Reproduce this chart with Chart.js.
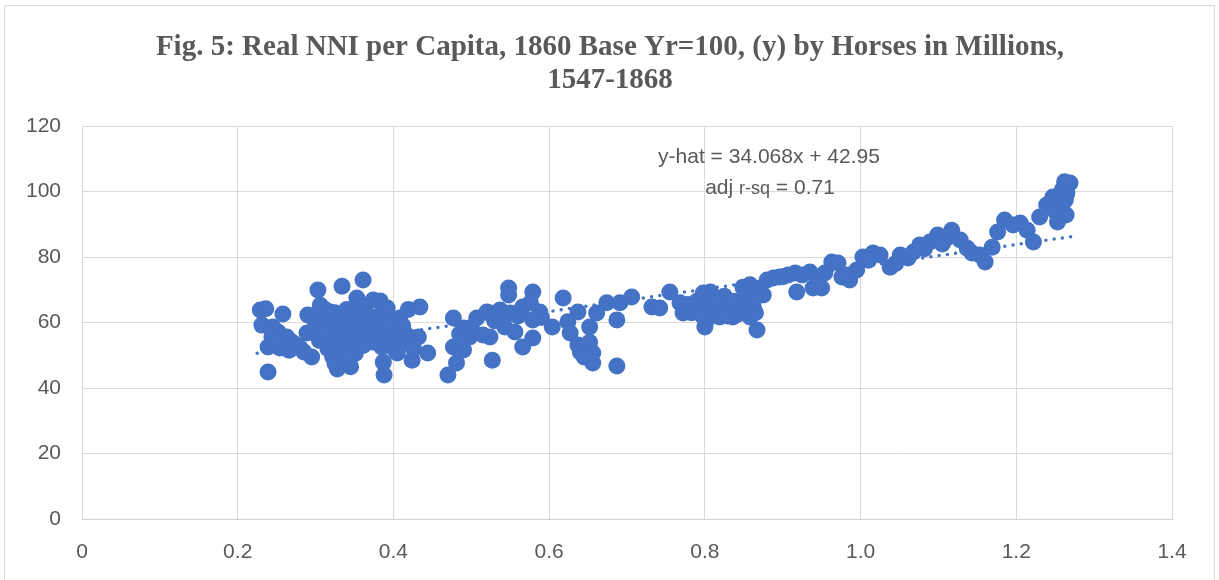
<!DOCTYPE html>
<html>
<head>
<meta charset="utf-8">
<script src="https://cdn.jsdelivr.net/npm/chart.js@4.4.1/dist/chart.umd.min.js"></script>
<style>
  body { margin: 0; background: #fff; }
  #wrap { position: relative; width: 1219px; height: 580px; overflow: hidden; }
  #frame { position: absolute; left: 4px; top: 5px; width: 1209px; height: 600px; border: 1px solid #d9d9d9; }
  canvas { position: absolute; left: 0; top: 0; }
</style>
</head>
<body>
<div id="wrap">
  <div id="frame"></div>
  <canvas id="chart" width="1219" height="580"></canvas>
</div>
<script>
// horses in millions (x) and real NNI per capita, 1860=100 (y)
const horses = [
  0.229,0.236,0.258,0.231,0.245,0.252,0.244,0.239,0.254,0.263,0.239,0.270,0.276,0.280,0.289,0.295,0.285,0.266,0.248,
  0.303,0.334,0.361,0.290,0.306,0.319,0.353,0.374,0.383,0.392,0.419,0.434,
  0.298,0.300,0.305,0.308,0.312,0.315,0.316,0.320,0.321,0.322,0.325,0.326,0.327,0.330,0.331,0.332,0.328,0.335,0.336,0.337,
  0.340,0.341,0.342,0.343,0.345,0.346,0.349,0.350,0.351,0.355,0.356,0.360,0.361,0.364,0.366,0.370,0.371,0.375,0.376,0.380,
  0.381,0.385,0.389,0.391,0.395,0.400,0.401,0.405,0.410,0.414,0.408,0.400,0.387,0.388,0.405,0.424,0.444,0.432,0.420,0.426,
  0.366,0.361,0.345,0.338,0.325,0.310,0.355,0.395,0.412,0.365,
  0.477,0.490,0.477,0.490,0.481,0.470,0.507,0.520,0.527,0.498,0.515,0.485,0.500,0.548,0.548,0.579,0.524,0.537,0.550,0.566,
  0.576,0.588,0.543,0.556,0.579,0.579,0.566,0.524,0.604,0.618,0.624,0.627,0.637,0.652,0.637,0.640,0.652,0.656,0.656,0.661,
  0.674,0.687,0.691,0.706,0.687,0.645,0.560,0.590,0.530,
  0.732,0.742,0.755,0.768,0.772,0.785,0.798,0.807,0.800,0.794,0.810,0.819,0.828,0.836,0.845,0.849,0.858,0.867,0.858,0.875,
  0.790,0.803,0.805,0.812,0.815,0.822,0.825,0.832,0.838,0.842,0.848,0.852,0.855,0.862,0.865,0.870,0.778,0.783,0.797,0.818,0.829,
  0.880,0.888,0.896,0.907,0.916,0.918,0.935,0.939,0.950,0.954,0.963,0.971,0.976,0.986,0.995,1.003,1.016,1.025,1.038,1.051,
  1.061,0.900,0.925,0.945,0.982,1.010,1.045,
  1.076,1.089,1.099,1.117,1.111,1.128,1.137,1.143,1.153,1.160,1.169,1.176,1.185,1.196,1.205,1.214,1.222,1.230,1.239,1.247,
  1.253,1.259,1.263,1.265,1.269,1.265,1.259,1.256,1.264,1.082,1.068,1.105,1.250,1.262
];
const nni = [
  63.8,64.2,62.6,59.2,58.6,57.0,55.6,52.5,52.2,55.6,44.9,54.0,53.0,52.2,56.8,49.5,51.0,51.5,54.0,
  69.9,71.1,73.0,62.3,65.3,63.2,67.5,66.9,66.6,64.4,64.0,64.7,
  61.0,57.5,54.5,59.8,64.0,57.0,52.0,61.0,55.0,49.5,63.0,58.0,53.0,60.5,56.0,50.5,45.8,62.0,54.0,58.0,
  64.0,60.0,51.5,48.0,56.0,62.5,58.0,54.0,50.5,60.5,63.5,57.0,53.0,59.0,55.5,61.0,57.5,54.0,59.5,56.0,
  62.0,52.5,55.0,58.0,54.0,56.5,52.0,55.0,53.5,57.0,61.4,58.6,47.9,44.0,50.7,48.5,50.7,55.6,54.0,52.0,
  59.2,53.1,46.5,49.0,47.5,56.0,65.0,60.0,59.0,63.0,
  61.4,58.3,52.5,51.6,47.6,44.0,61.4,63.2,48.5,55.6,56.2,56.5,58.5,70.5,68.4,69.3,62.9,63.8,62.9,64.7,
  66.0,63.2,58.6,57.1,60.8,55.3,52.5,55.6,58.6,67.5,60.2,56.8,63.2,58.6,53.1,51.0,54.0,50.7,47.6,62.9,
  66.0,60.8,66.0,67.8,46.7,49.5,62.0,61.5,60.5,
  64.7,64.4,69.3,66.0,62.9,64.4,69.0,69.3,58.6,64.7,63.8,61.7,66.0,61.7,65.3,70.8,71.5,57.7,61.7,68.4,
  66.5,61.0,66.5,67.5,64.5,63.5,68.0,64.0,66.5,62.5,64.0,66.5,68.5,65.0,63.0,70.0,65.5,63.0,62.0,66.0,62.0,
  73.0,73.6,73.9,74.5,75.1,69.3,75.4,70.5,70.5,75.1,78.5,78.2,73.9,73.0,76.0,80.0,81.2,80.6,76.9,80.6,
  79.7,74.0,74.5,72.0,74.5,79.0,78.0,
  83.7,84.6,86.7,88.2,85.8,85.2,82.7,81.2,80.6,78.5,83.0,87.6,91.3,89.8,90.4,88.2,84.6,92.2,95.9,98.3,
  90.7,94.4,97.4,101.4,102.6,99.5,100.5,96.5,92.8,82.5,81.5,84.0,94.0,103.0
];
// linear trend ends as drawn in the figure
const trendX = [0.225, 1.27];
const trendY = [50.6, 86.2];
const xTicks = { min: 0, max: 1.4, step: 0.2 };
const yTicks = { min: 0, max: 120, step: 20 };
const titleLines = ['Fig. 5: Real NNI per Capita, 1860 Base Yr=100, (y) by Horses in Millions,', '1547-1868'];

const points = horses.map((h, i) => ({ x: h, y: nni[i] }));
const trend = trendX.map((t, i) => ({ x: t, y: trendY[i] }));

const grey = '#595959';

// title is centred on the whole chart box, not on the plot, so draw it here
const titleAndNote = {
  id: 'titleAndNote',
  afterDraw(chart) {
    const c = chart.ctx;
    c.save();
    c.fillStyle = grey;
    c.textBaseline = 'middle';
    c.textAlign = 'center';
    c.font = 'bold 29px "Liberation Serif", "Times New Roman", serif';
    titleLines.forEach((t, i) => c.fillText(t, 610, 48 + i * 33));

    c.font = '21px "Liberation Sans", Arial, sans-serif';
    c.fillText('y-hat = 34.068x + 42.95', 769, 157);
    // second line: "r-sq" is set smaller
    const big = '21px "Liberation Sans", Arial, sans-serif';
    const small = '18px "Liberation Sans", Arial, sans-serif';
    const parts = [['adj ', big], ['r-sq', small], [' = 0.71', big]];
    let w = 0;
    parts.forEach(p => { c.font = p[1]; w += c.measureText(p[0]).width; });
    let x = 770 - w / 2;
    c.textAlign = 'left';
    parts.forEach(p => {
      c.font = p[1];
      c.fillText(p[0], x, p[1] === small ? 189 : 188);
      x += c.measureText(p[0]).width;
    });
    c.restore();
  }
};

const ctx = document.getElementById('chart').getContext('2d');
new Chart(ctx, {
  type: 'scatter',
  data: {
    datasets: [
      {
        type: 'line',
        data: trend,
        borderColor: '#4472C4',
        borderWidth: 3.5,
        borderDash: [0, 8.3],
        borderCapStyle: 'round',
        pointRadius: 0,
        fill: false
      },
      {
        data: points,
        backgroundColor: '#4472C4',
        borderColor: '#4472C4',
        borderWidth: 0,
        pointRadius: 8.5,
        pointHoverRadius: 8.5
      }
    ]
  },
  options: {
    responsive: false,
    animation: false,
    layout: { padding: { left: 0, right: 47, top: 126, bottom: 0 } },
    plugins: {
      legend: { display: false },
      tooltip: { enabled: false },
      title: { display: false }
    },
    scales: {
      x: {
        type: 'linear',
        min: xTicks.min,
        max: xTicks.max,
        afterFit(s) { s.height = 61; },
        ticks: {
          stepSize: xTicks.step,
          color: grey,
          padding: 21,
          font: { family: '"Liberation Sans", Arial, sans-serif', size: 21 }
        },
        grid: { color: '#d9d9d9', drawTicks: false, tickLength: 0 },
        border: { color: '#d0d0d0' }
      },
      y: {
        min: yTicks.min,
        max: yTicks.max,
        afterFit(s) { s.width = 82; },
        ticks: {
          stepSize: yTicks.step,
          color: grey,
          padding: 21,
          font: { family: '"Liberation Sans", Arial, sans-serif', size: 21 }
        },
        grid: { color: '#d9d9d9', drawTicks: false, tickLength: 0 },
        border: { display: false }
      }
    }
  },
  plugins: [titleAndNote]
});
</script>
</body>
</html>
